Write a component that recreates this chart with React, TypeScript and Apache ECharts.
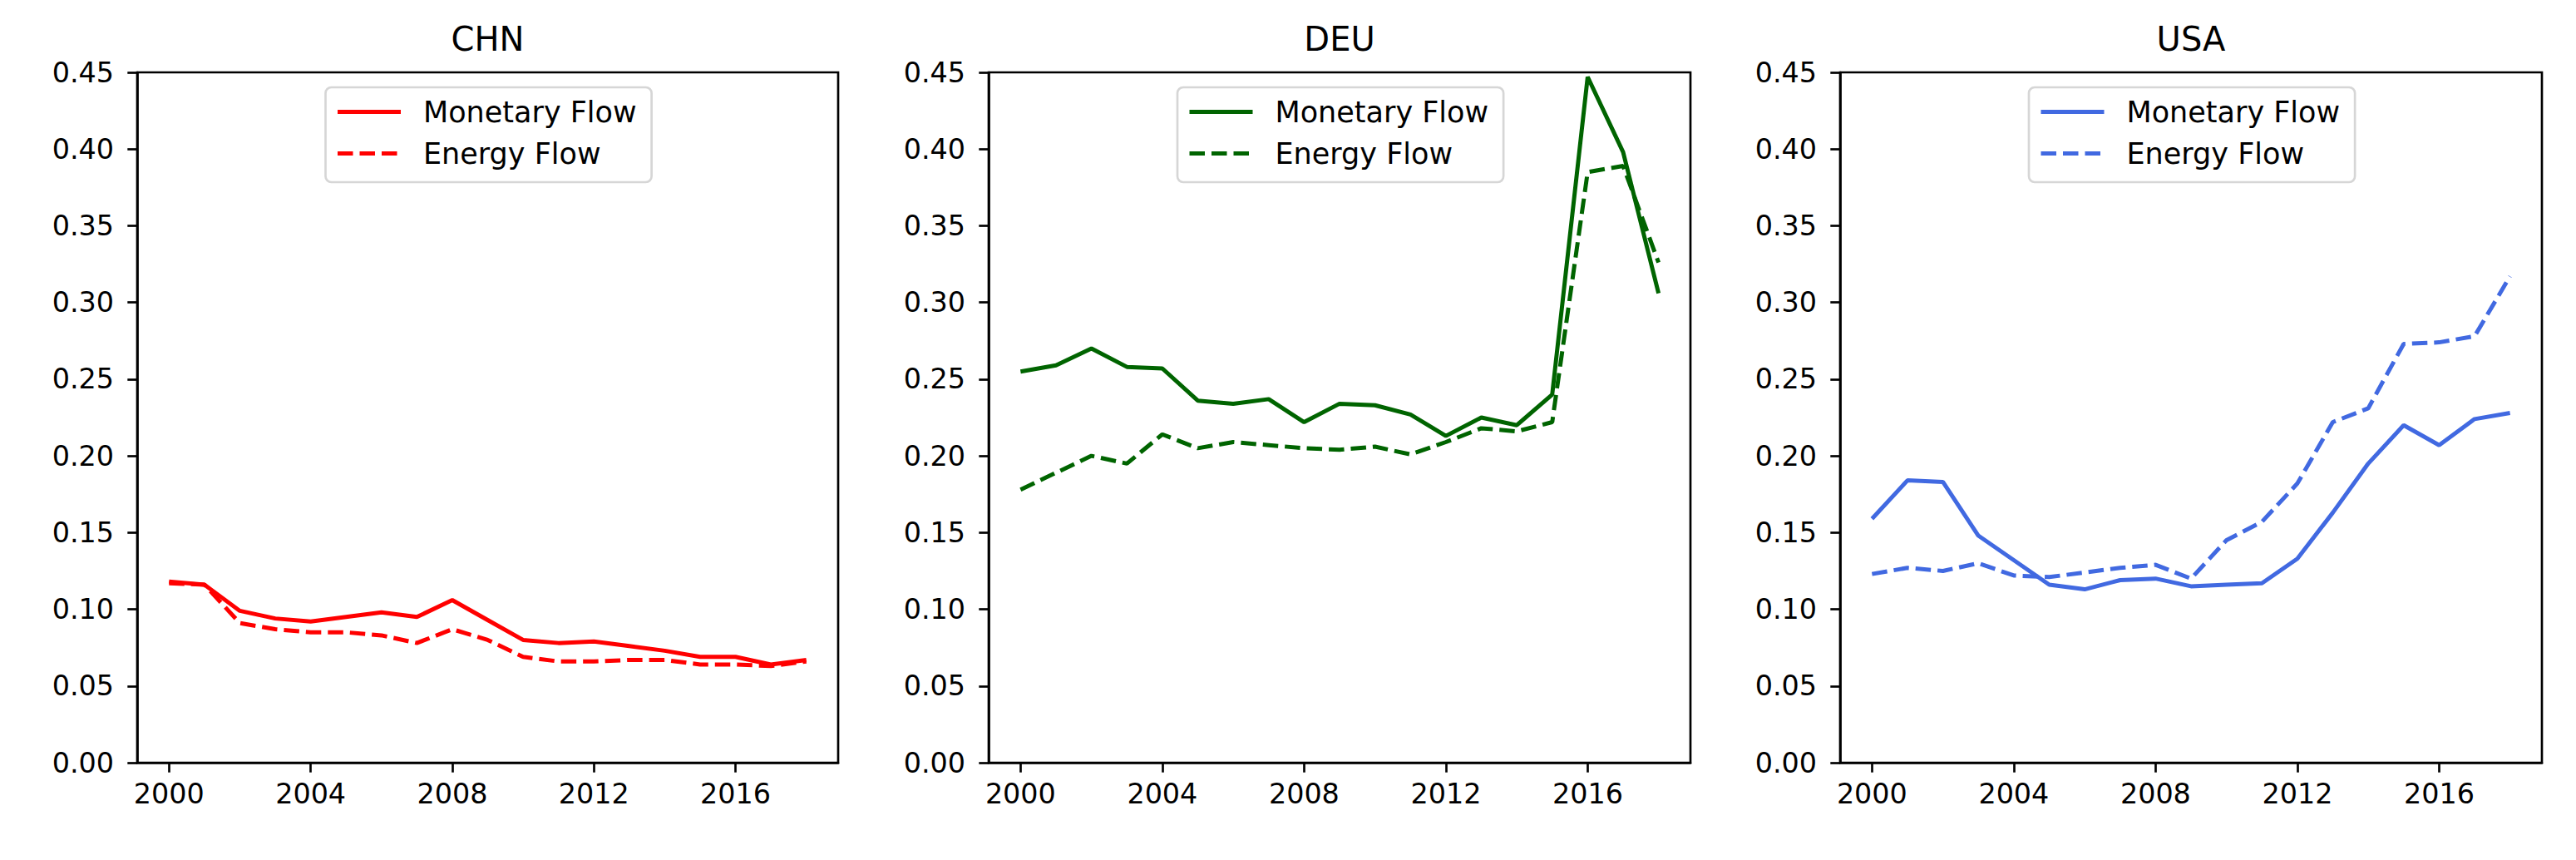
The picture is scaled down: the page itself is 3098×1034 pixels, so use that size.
import React, { useEffect, useRef } from "react";
import * as echarts from "echarts";

const years = [2000, 2001, 2002, 2003, 2004, 2005, 2006, 2007, 2008, 2009, 2010, 2011, 2012, 2013, 2014, 2015, 2016, 2017, 2018];
const countries = ["CHN", "DEU", "USA"];
const countryColors = ["#ff0000", "#006400", "#4169e1"];
const seriesLabels = ["Monetary Flow", "Energy Flow"];

const chnMonetary = [0.118, 0.116, 0.099, 0.094, 0.092, 0.095, 0.098, 0.095, 0.106, 0.093, 0.080, 0.078, 0.079, 0.076, 0.073, 0.069, 0.069, 0.064, 0.067];
const chnEnergy = [0.117, 0.116, 0.091, 0.087, 0.085, 0.085, 0.083, 0.078, 0.087, 0.080, 0.069, 0.066, 0.066, 0.067, 0.067, 0.064, 0.064, 0.063, 0.066];
const deuMonetary = [0.255, 0.259, 0.270, 0.258, 0.257, 0.236, 0.234, 0.237, 0.222, 0.234, 0.233, 0.227, 0.213, 0.225, 0.220, 0.240, 0.447, 0.398, 0.306];
const deuEnergy = [0.178, 0.189, 0.200, 0.195, 0.214, 0.205, 0.209, 0.207, 0.205, 0.204, 0.206, 0.201, 0.209, 0.218, 0.216, 0.222, 0.385, 0.389, 0.326];
const usaMonetary = [0.159, 0.184, 0.183, 0.148, 0.132, 0.116, 0.113, 0.119, 0.120, 0.115, 0.116, 0.117, 0.133, 0.163, 0.195, 0.220, 0.207, 0.224, 0.228];
const usaEnergy = [0.123, 0.127, 0.125, 0.130, 0.122, 0.121, 0.124, 0.127, 0.129, 0.120, 0.145, 0.157, 0.182, 0.222, 0.231, 0.273, 0.274, 0.278, 0.317];

const xTickValues = [2000, 2004, 2008, 2012, 2016];
const yMin = 0;
const yMax = 0.45;
const yStep = 0.05;
const xMin = 1999.1;
const xMax = 2018.9;

const monetaryByCountry = [chnMonetary, deuMonetary, usaMonetary];
const energyByCountry = [chnEnergy, deuEnergy, usaEnergy];

const FONT = "DejaVu Sans";
const gridLefts = [165, 1189, 2213];
const gridWidths = [843, 844, 844];
const gridTop = 87;
const gridHeight = 830;
const LW = 5;
const SPINE = 2.67;

export default function App() {
  const ref = useRef<HTMLDivElement>(null);
  useEffect(() => {
    if (!ref.current) return;
    const chart = echarts.init(ref.current, undefined, { renderer: "svg" });

    const grid: any[] = [];
    const xAxis: any[] = [];
    const yAxis: any[] = [];
    const title: any[] = [];
    const legend: any[] = [];
    const series: any[] = [];

    countries.forEach((c, i) => {
      const left = gridLefts[i];
      const width = gridWidths[i];
      const center = left + width / 2;
      grid.push({
        left,
        top: gridTop,
        width,
        height: gridHeight,
        show: true,
        borderColor: "#000",
        borderWidth: SPINE,
        backgroundColor: "transparent",
      });
      xAxis.push({
        type: "value",
        gridIndex: i,
        min: xMin,
        max: xMax,
        splitLine: { show: false },
        axisLine: { show: true, onZero: false, lineStyle: { color: "#000", width: SPINE } },
        axisTick: { show: true, length: 11.7, lineStyle: { color: "#000", width: SPINE }, customValues: xTickValues },
        axisLabel: {
          show: true,
          customValues: xTickValues,
          formatter: (v: number) => String(Math.round(v)),
          color: "#000",
          fontFamily: FONT,
          fontSize: 33.4,
          margin: 21,
        },
      });
      yAxis.push({
        type: "value",
        gridIndex: i,
        min: yMin,
        max: yMax,
        interval: yStep,
        splitLine: { show: false },
        axisLine: { show: true, lineStyle: { color: "#000", width: SPINE } },
        axisTick: { show: true, length: 11.7, lineStyle: { color: "#000", width: SPINE } },
        axisLabel: {
          color: "#000",
          fontFamily: FONT,
          fontSize: 33.4,
          margin: 28,
          formatter: (v: number) => v.toFixed(2),
        },
      });
      title.push({
        text: c,
        left: center,
        top: 27,
        textAlign: "center",
        padding: 0,
        textStyle: { fontFamily: FONT, fontSize: 40, fontWeight: "normal", color: "#000" },
      });
      legend.push({
        orient: "vertical",
        left: center - 195,
        top: 105,
        data: seriesLabels.map((s) => c + "|" + s),
        formatter: (name: string) => name.split("|")[1],
        itemWidth: 76,
        itemHeight: 35,
        itemGap: 15,
        padding: [12, 18, 17, 12],
        borderColor: "#d6d6d6",
        borderWidth: SPINE,
        borderRadius: 7,
        backgroundColor: "rgba(255,255,255,0.8)",
        selectedMode: false,
        itemStyle: { opacity: 0 },
        lineStyle: { width: LW, type: "inherit", color: "inherit" },
        textStyle: { fontFamily: FONT, fontSize: 35, color: "#000", padding: [0, 0, 0, 22] },
      });
      const color = countryColors[i];
      series.push({
        type: "line",
        name: c + "|" + seriesLabels[0],
        xAxisIndex: i,
        yAxisIndex: i,
        data: years.map((y, k) => [y, monetaryByCountry[i][k]]),
        symbol: "none",
        color,
        lineStyle: { color, width: LW, type: "solid" },
      });
      series.push({
        type: "line",
        name: c + "|" + seriesLabels[1],
        xAxisIndex: i,
        yAxisIndex: i,
        data: years.map((y, k) => [y, energyByCountry[i][k]]),
        symbol: "none",
        color,
        lineStyle: { color, width: LW, type: [18.5, 8] },
      });
    });

    chart.setOption({
      animation: false,
      backgroundColor: "#fff",
      textStyle: { fontFamily: FONT },
      grid,
      xAxis,
      yAxis,
      title,
      legend,
      series,
    });
    return () => chart.dispose();
  }, []);
  return <div ref={ref} style={{ position: "fixed", left: 0, top: 0, width: 3098, height: 1034 }} />;
}
